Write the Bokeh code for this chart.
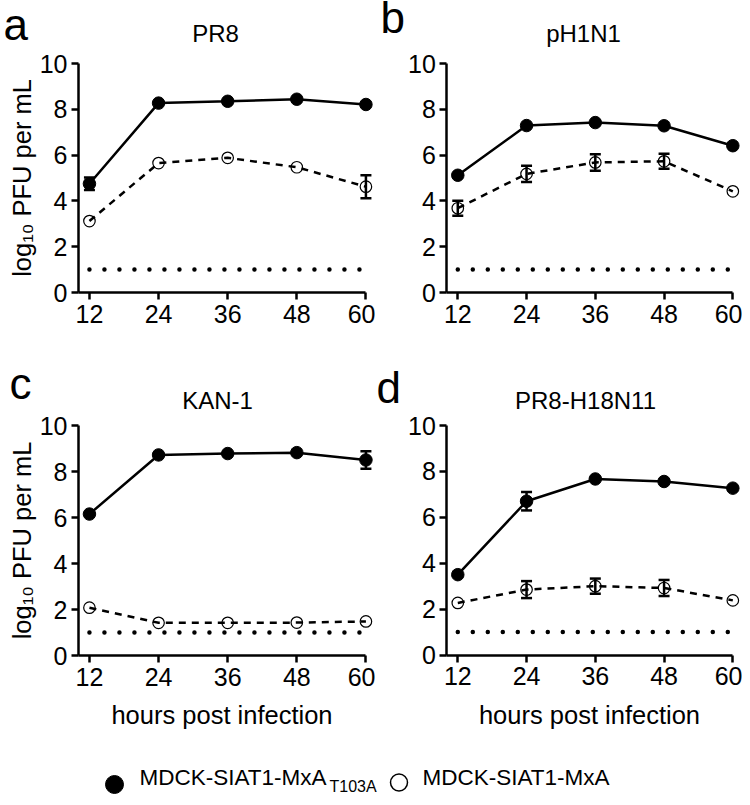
from bokeh.plotting import figure
from bokeh.layouts import column, row
from bokeh.models import Range1d, Whisker, ColumnDataSource, Label, TeeHead, FixedTicker
from bokeh.embed import file_html
from bokeh.resources import INLINE
from bokeh.core.properties import value

FONT = "Liberation Sans"

hours = [12, 24, 36, 48, 60]
x_ticks = [12, 24, 36, 48, 60]
y_ticks = [0, 2, 4, 6, 8, 10]
x_axis_start = 10.1
lod_x = [12, 60]
lod_y = [1.0, 1.0]

# Panel a: PR8
pr8_t103a = [4.75, 8.27, 8.35, 8.44, 8.21]
pr8_t103a_err = [0.27, 0, 0, 0, 0]
pr8_mxa = [3.12, 5.65, 5.88, 5.47, 4.62]
pr8_mxa_err = [0, 0, 0, 0, 0.5]

# Panel b: pH1N1
ph1n1_t103a = [5.12, 7.29, 7.42, 7.28, 6.41]
ph1n1_t103a_err = [0, 0, 0, 0, 0]
ph1n1_mxa = [3.68, 5.18, 5.68, 5.73, 4.42]
ph1n1_mxa_err = [0.33, 0.36, 0.36, 0.33, 0]

# Panel c: KAN-1
kan1_t103a = [6.15, 8.72, 8.78, 8.82, 8.5]
kan1_t103a_err = [0, 0, 0, 0, 0.38]
kan1_mxa = [2.08, 1.42, 1.42, 1.43, 1.48]
kan1_mxa_err = [0, 0, 0, 0, 0]

# Panel d: PR8-H18N11
h18_t103a = [3.5, 6.7, 7.67, 7.56, 7.27]
h18_t103a_err = [0, 0.4, 0, 0, 0]
h18_mxa = [2.27, 2.85, 3.0, 2.92, 2.38]
h18_mxa_err = [0, 0.37, 0.33, 0.35, 0]

titles = ["PR8", "pH1N1", "KAN-1", "PR8-H18N11"]
letters = ["a", "b", "c", "d"]
y_label = "log\u2081\u2080 PFU per mL"
x_label = "hours post infection"
legend_main = "MDCK-SIAT1-MxA"
legend_sub = "T103A"

# geometry (canvas pixels): width, height, axis origin, px per hour, px per log unit,
# title centre/anchor, letter left/anchor
GEOM = [
    dict(w=375, h=360, ox=78.0, oy=292.0, sx=5.76, sy=22.9, tx=215, ty=33, lx=3, ly=24),
    dict(w=367, h=360, ox=71.4, oy=292.0, sx=5.73, sy=22.9, tx=208, ty=33, lx=5, ly=17),
    dict(w=375, h=380, ox=78.0, oy=295.0, sx=5.76, sy=23.0, tx=217, ty=39.5, lx=9, ly=23),
    dict(w=367, h=380, ox=71.4, oy=294.5, sx=5.73, sy=22.95, tx=210, ty=39.5, lx=1, ly=27),
]


def add_err(p, ys, errs):
    keep = [i for i, e in enumerate(errs) if e > 0]
    if not keep:
        return
    src = ColumnDataSource(dict(x=[hours[i] for i in keep],
                                lo=[ys[i] - errs[i] for i in keep],
                                hi=[ys[i] + errs[i] for i in keep]))
    w = Whisker(source=src, base="x", lower="lo", upper="hi", dimension="height",
                line_width=2.5, line_color="black",
                upper_head=TeeHead(size=11, line_width=2.5, line_color="black"),
                lower_head=TeeHead(size=11, line_width=2.5, line_color="black"))
    p.add_layout(w)


def make_panel(g, title, letter, t103a, t103a_err, mxa, mxa_err, ylab, xlab):
    x0 = x_axis_start - g["ox"] / g["sx"]
    x1 = x0 + g["w"] / g["sx"]
    y1 = g["oy"] / g["sy"]
    y0 = y1 - g["h"] / g["sy"]
    p = figure(width=g["w"], height=g["h"], x_range=Range1d(x0, x1),
               y_range=Range1d(y0, y1), output_backend="svg", toolbar_location=None,
               min_border=0, min_border_left=0, min_border_right=0,
               min_border_top=0, min_border_bottom=0)
    p.outline_line_color = None
    p.grid.visible = False

    for ax in (p.xaxis[0], p.yaxis[0]):
        ax.axis_line_width = 2.5
        ax.major_tick_line_width = 2.5
        ax.major_tick_out = 7
        ax.major_tick_in = 0
        ax.minor_tick_out = 0
        ax.minor_tick_in = 0
        ax.major_label_text_font = FONT
        ax.major_label_text_font_size = "25px"
        ax.major_label_text_color = "black"
        ax.axis_label_text_font = FONT
        ax.axis_label_text_font_size = "25.5px"
        ax.axis_label_text_font_style = "normal"
        ax.axis_label_text_color = "black"
    p.xaxis.major_label_standoff = 5
    p.yaxis.major_label_standoff = 4
    p.xaxis.axis_label_standoff = 12
    p.yaxis.axis_label_standoff = 1
    p.xaxis.ticker = FixedTicker(ticks=x_ticks)
    p.yaxis.ticker = FixedTicker(ticks=y_ticks)
    p.xaxis.bounds = (x_axis_start, 60)
    p.yaxis.bounds = (0, 10)
    p.xaxis.fixed_location = 0
    p.yaxis.fixed_location = x_axis_start
    if ylab:
        p.yaxis.axis_label = y_label
    if xlab:
        p.xaxis.axis_label = x_label

    # limit of detection
    p.line(lod_x, lod_y, line_color="black", line_width=4.5,
           line_dash="0 15", line_cap="round")
    # MxA (open, dashed)
    p.line(hours, mxa, line_color="black", line_width=2.5, line_dash="7 6")
    add_err(p, mxa, mxa_err)
    p.scatter(hours, mxa, size=11.5, marker="circle", fill_alpha=0,
              line_color="black", line_width=1.2)
    # MxA T103A (filled, solid)
    p.line(hours, t103a, line_color="black", line_width=2.5)
    add_err(p, t103a, t103a_err)
    p.scatter(hours, t103a, size=12.5, marker="circle", fill_color="black",
              line_color="black")

    p.add_layout(Label(x=g["tx"], y=g["h"] - g["ty"], x_units="screen", y_units="screen",
                       text=title, text_font=FONT, text_font_size="24px",
                       text_color="black", text_baseline="alphabetic",
                       text_align="center"))
    p.add_layout(Label(x=g["lx"], y=g["h"] - g["ly"], x_units="screen", y_units="screen",
                       text=letter, text_font=FONT, text_font_size="44px",
                       text_color="black", text_baseline="alphabetic",
                       text_align="left"))
    return p


pa = make_panel(GEOM[0], titles[0], letters[0], pr8_t103a, pr8_t103a_err,
                pr8_mxa, pr8_mxa_err, True, False)
pb = make_panel(GEOM[1], titles[1], letters[1], ph1n1_t103a, ph1n1_t103a_err,
                ph1n1_mxa, ph1n1_mxa_err, False, False)
pc = make_panel(GEOM[2], titles[2], letters[2], kan1_t103a, kan1_t103a_err,
                kan1_mxa, kan1_mxa_err, True, True)
pd = make_panel(GEOM[3], titles[3], letters[3], h18_t103a, h18_t103a_err,
                h18_mxa, h18_mxa_err, False, True)

# legend strip (coordinates in pixels, y downward)
LW, LH = 742, 57
pl = figure(width=LW, height=LH, x_range=Range1d(0, LW), y_range=Range1d(LH, 0),
            output_backend="svg", toolbar_location=None, x_axis_type=None,
            y_axis_type=None, min_border=0)
pl.outline_line_color = None
pl.grid.visible = False
pl.scatter([114], [44], size=18, marker="circle", fill_color="black", line_color="black")
pl.text([139], [36.5], text=[legend_main], text_font=value(FONT), text_font_size="22.5px",
        text_baseline="alphabetic", text_align="left", text_color="black")
pl.text([329], [46], text=[legend_sub], text_font=value(FONT), text_font_size="16px",
        text_baseline="alphabetic", text_align="left", text_color="black")
pl.scatter([398.5], [42], size=17, marker="circle", fill_alpha=0, line_color="black",
           line_width=1.5)
pl.text([422], [36.5], text=[legend_main], text_font=value(FONT), text_font_size="22.5px",
        text_baseline="alphabetic", text_align="left", text_color="black")

layout = column(row(pa, pb, spacing=0), row(pc, pd, spacing=0), pl, spacing=0)
open("out.html", "w").write(file_html(layout, INLINE))
